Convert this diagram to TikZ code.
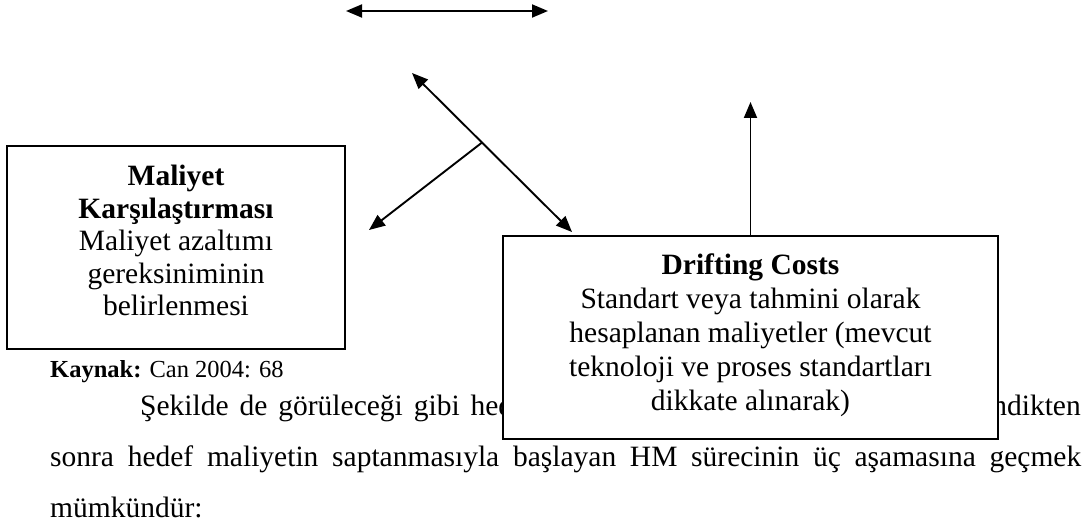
\documentclass[tikz,border=0pt]{standalone}
\usepackage{fontspec}
\setmainfont{Liberation Serif}
\usetikzlibrary{arrows.meta,calc}
\begin{document}
\begin{tikzpicture}[x=1pt,y=-1pt,
  frame/.style={draw=black, line width=1.8pt, fill=white, inner sep=0pt},
  boxtext/.style={align=center, inner sep=0pt, font=\fontsize{29.5}{32.5}\selectfont},
  arr/.style={line width=1.9pt, -{Triangle[length=16pt,width=13pt]}},
  darr/.style={line width=1.9pt, {Triangle[length=16pt,width=13pt]}-{Triangle[length=16pt,width=13pt]}},
  body/.style={inner sep=0pt, anchor=base west, font=\fontsize{29.5}{35}\selectfont}]

\useasboundingbox (0,0) rectangle (1091,529);
\fill[white] (0,0) rectangle (1091,529);

% running text below the figure
\node[body] (kaynak) at (50,377) {\fontsize{24.5}{28}\selectfont\textbf{Kaynak:} Can 2004: 68};
\node[body] (p1a) at (140,415) {\makebox[373pt][s]{Şekilde de görüleceği gibi hed}};
\node[body, anchor=base east] (p1b) at (1081,415) {ndikten};
\node[body] (p2) at (50,466) {\makebox[1031pt][s]{sonra hedef maliyetin saptanmasıyla başlayan HM sürecinin üç aşamasına geçmek}};
\node[body] (p3) at (50,517) {mümkündür:};

% boxes
\node[frame, minimum width=338pt, minimum height=203pt] (lbox) at (176,247.5) {};
\node[frame, minimum width=495pt, minimum height=203pt] (rbox) at (750.5,337.5) {};
\node[boxtext, anchor=north] (ltext) at (176,165)
  {\textbf{Maliyet}\\\textbf{Karşılaştırması}\\Maliyet azaltımı\\gereksiniminin\\belirlenmesi};
\node[boxtext, font=\fontsize{29.5}{34}\selectfont, anchor=north] (rtext) at (750.5,254)
  {\textbf{Drifting Costs}\\Standart veya tahmini olarak\\hesaplanan maliyetler (mevcut\\teknoloji ve proses standartları\\dikkate alınarak)};

% connectors
\coordinate (ha) at (346,11);
\coordinate (hb) at (548,11);
\draw[darr] (ha) -- (hb);

\coordinate (dtop) at (412,73);
\coordinate (dbot) at (572,232);
\draw[darr] (dtop) -- (dbot);
\coordinate (dmid) at ($(dtop)!0.4375!(dbot)$);
\coordinate (bl) at (369,230);
\draw[arr] (dmid) -- (bl);

\coordinate (vtip) at (751,102);
\draw[arr] (rbox.north) -- (rbox.north |- vtip);
\end{tikzpicture}
\end{document}
